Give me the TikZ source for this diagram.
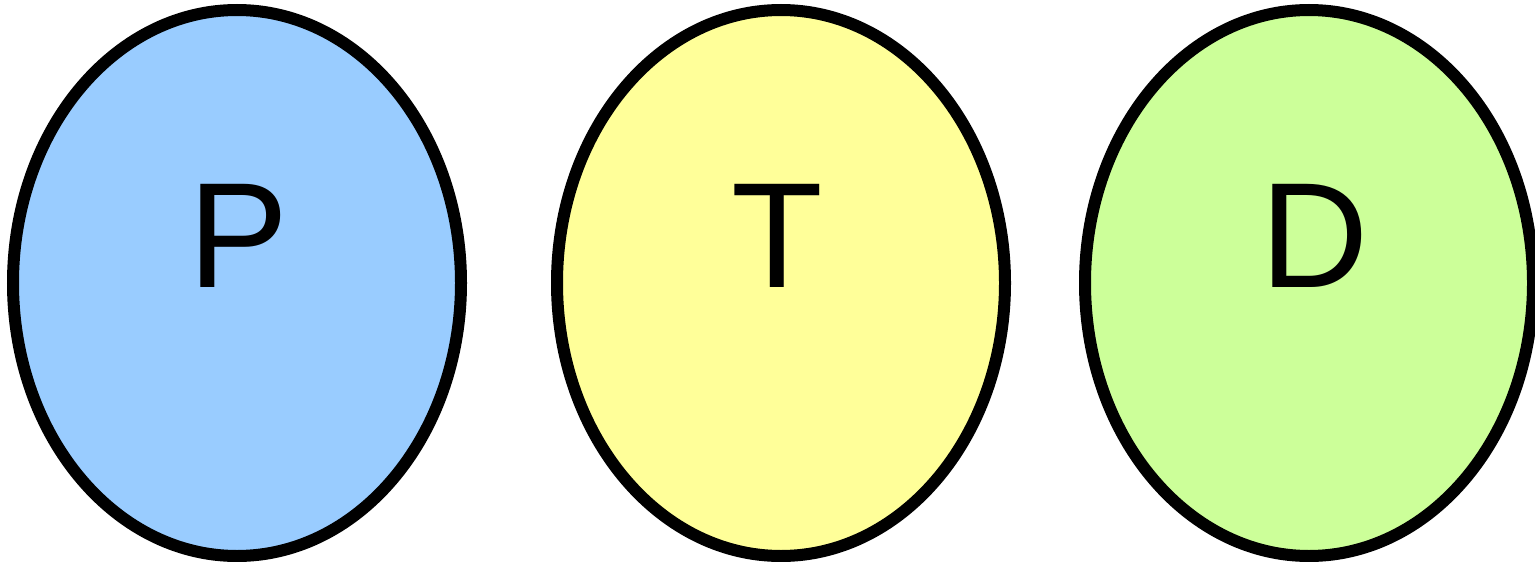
\documentclass[tikz,border=0pt]{standalone}
\usepackage{fontspec}
\setmainfont{Liberation Sans}
\usepackage{xcolor}
\usepackage{tikz}
\usetikzlibrary{shapes.geometric}

\definecolor{pblue}{HTML}{99CCFF}
\definecolor{tyellow}{HTML}{FFFF99}
\definecolor{dgreen}{HTML}{CCFF99}

\begin{document}
\begin{tikzpicture}[
  x=1pt, y=-1pt,
  set/.style={draw, ellipse, line width=12pt, minimum width=448pt, minimum height=546pt, inner sep=0pt},
  letter/.style={anchor=base, inner sep=0pt, font=\fontsize{150}{150}\selectfont}
]
\useasboundingbox (0,0) rectangle (1535,562);
\node[set, fill=pblue] (pset) at (237,283) {};
\node[set, fill=tyellow] (tset) at (781,283) {};
\node[set, fill=dgreen] (dset) at (1309,283) {};
\node[letter] (plbl) at (239,287) {P};
\node[letter] (tlbl) at (777,287) {T};
\node[letter] (dlbl) at (1315,287) {D};
\end{tikzpicture}
\end{document}
